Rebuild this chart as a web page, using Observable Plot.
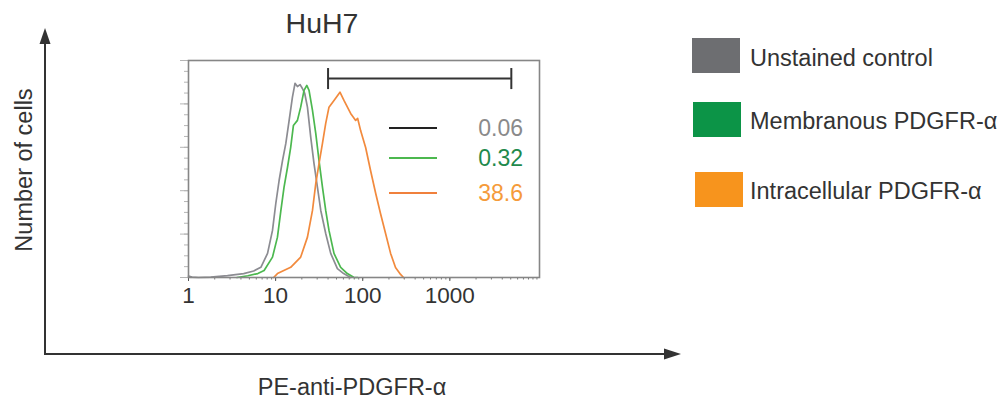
<!DOCTYPE html>
<html><head><meta charset="utf-8">
<script src="https://cdn.jsdelivr.net/npm/d3@7"></script>
<script src="https://cdn.jsdelivr.net/npm/@observablehq/plot@0.6"></script>
<style>html,body{margin:0;padding:0;background:#fff;} svg{display:block}</style>
</head><body><div id="chart"></div>
<script>
// ---- data ----
const title = "HuH7";
const xLabel = "PE-anti-PDGFR-α";
const yLabel = "Number of cells";
const seriesNames = ["Unstained control", "Membranous PDGFR-α", "Intracellular PDGFR-α"];
const gatePercents = ["0.06", "0.32", "38.6"];
const xTicks = [1, 10, 100, 1000];
const gateRange = [40, 5080];

const unstainedX = [1, 1.1, 1.3, 1.8, 2.8, 4.3, 5.6, 6.77, 8.08, 9.21, 10.05, 10.97, 12.0, 13.1, 14.3, 15.6, 16.7, 17.8, 19.1, 20.3, 21.6, 23.2, 25.3, 27.6, 30.2, 33.0, 37.6, 42.9, 51.2, 60.4, 72.7];
const unstainedY = [0.6, 0.2, 0, 0.2, 0.9, 1.8, 3.0, 4.7, 11.1, 21.7, 34.1, 44.7, 53.9, 61.8, 72.4, 83.1, 89.5, 88.0, 88.9, 87.1, 84.8, 78.5, 64.7, 52.5, 41.6, 30.9, 20.3, 11.1, 4.1, 1.8, 0];

const membranousX = [3.6, 4.8, 6.25, 7.38, 9.21, 10.5, 11.5, 12.5, 13.7, 14.9, 16.0, 17.8, 19.4, 21.2, 22.8, 24.2, 26.5, 28.9, 31.5, 34.5, 37.6, 41.0, 46.8, 55.8, 66.6, 78.7, 87.5];
const membranousY = [0, 0.8, 1.8, 3.2, 9.4, 18.6, 30.9, 41.6, 50.8, 60.0, 70.0, 72.4, 78.5, 86.2, 88.5, 86.2, 77.0, 66.4, 53.9, 41.6, 30.9, 21.7, 11.1, 4.7, 1.8, 0.1, 0];

const intracellularX = [9.5, 10.5, 14.9, 19.4, 23.2, 26.5, 28.9, 31.5, 34.5, 37.6, 41.0, 46.8, 54.8, 60.9, 72.7, 83.0, 87.5, 94.6, 108, 123, 141, 160, 183, 209, 238, 272, 294];
const intracellularY = [0, 1.8, 4.7, 9.4, 18.6, 30.9, 43.3, 52.5, 61.8, 71.0, 78.5, 81.6, 85.4, 81.6, 75.6, 72.4, 73.3, 67.7, 59.9, 49.3, 38.7, 29.5, 20.3, 11.1, 4.6, 1.4, 0];

// ---- styles ----
const FONT = "Liberation Sans, Arial, Helvetica, sans-serif";
const swatchColors = ["#6d6e71", "#0c9447", "#f7941d"];
const lineColors = ["#8c8c92", "#4cb84f", "#f28a3d"];
const gateLineColors = ["#222222", "#4cb84f", "#f0803c"];
const gateTextColors = ["#8a8a8a", "#1f8a4c", "#f59b3a"];

const xs = [unstainedX, membranousX, intracellularX];
const ys = [unstainedY, membranousY, intracellularY];
const rows = seriesNames.flatMap((s, i) => xs[i].map((x, j) => ({series: s, x, y: ys[i][j]})));

const minorTicks = [];
for (const d of [1, 10, 100, 1000]) for (let m = 1; m <= 9; m++) minorTicks.push(d * m);
minorTicks.push(10000);

const chart = Plot.plot({
  width: 1006, height: 399,
  marginLeft: 188, marginRight: 467, marginTop: 60, marginBottom: 122,
  style: {fontFamily: FONT, fontSize: "22px", color: "#333", background: "#fff", overflow: "visible"},
  x: {type: "log", domain: [1, 10700]},
  y: {domain: [0, 100]},
  color: {domain: seriesNames, range: lineColors},
  marks: [
    Plot.axisY({ticks: d3.range(0, 101, 5), tickSize: 4, stroke: "#b5b5b5", tickFormat: () => "", label: null}),
    Plot.axisY({ticks: d3.range(0, 101, 20), tickSize: 8, stroke: "#b5b5b5", tickFormat: () => "", label: null}),
    Plot.axisX({ticks: minorTicks, tickSize: 2.5, stroke: "#777", tickFormat: () => "", label: null}),
    Plot.axisX({ticks: xTicks, tickSize: 4, tickPadding: 6, stroke: "#555", fill: "#333", tickFormat: d => String(d), label: null}),
    Plot.line(rows, {x: "x", y: "y", z: "series", stroke: "series", strokeWidth: 1.7}),
    Plot.frame({stroke: "#868686", strokeWidth: 1.6}),
    Plot.ruleY([91.7], {x1: gateRange[0], x2: gateRange[1], stroke: "#333", strokeWidth: 2}),
    Plot.ruleX(gateRange, {y1: 86.6, y2: 96.3, stroke: "#333", strokeWidth: 2})
  ]
});
document.getElementById("chart").appendChild(chart);

const svg = d3.select(chart);
svg.selectAll("g[aria-label='x-axis tick label']").attr("font-size", 22.5).selectAll("text").attr("font-size", 22.5);

const g = svg.append("g").attr("font-family", FONT).attr("fill", "#333").attr("text-anchor", "start");

// outer axes with arrows
g.append("line").attr("x1", 45).attr("y1", 42).attr("x2", 45).attr("y2", 355).attr("stroke", "#333").attr("stroke-width", 2);
g.append("line").attr("x1", 44).attr("y1", 354).attr("x2", 666).attr("y2", 354).attr("stroke", "#333").attr("stroke-width", 2);
g.append("polygon").attr("points", "45,28 39.5,44 50.5,44").attr("fill", "#333");
g.append("polygon").attr("points", "681,354 664,348.5 664,359.5").attr("fill", "#333");

// title and axis labels
g.append("text").attr("x", 322).attr("y", 33).attr("text-anchor", "middle").attr("font-size", 28.5).text(title);
g.append("text").attr("x", 352).attr("y", 395).attr("text-anchor", "middle").attr("font-size", 23.5).text(xLabel);
g.append("text").attr("transform", "translate(32,170) rotate(-90)").attr("text-anchor", "middle").attr("font-size", 23.5).text(yLabel);

// inner gate legend
const innerY = [128, 158, 193];
seriesNames.forEach((s, i) => {
  g.append("line").attr("x1", 389).attr("x2", 437).attr("y1", innerY[i]).attr("y2", innerY[i])
    .attr("stroke", gateLineColors[i]).attr("stroke-width", 2);
  g.append("text").attr("x", 523).attr("y", innerY[i] + 8).attr("text-anchor", "end")
    .attr("font-size", 23).attr("fill", gateTextColors[i]).text(gatePercents[i]);
});

// outer legend
const legX = [692, 693, 695], legY = [38, 102, 172], legBase = [66, 129, 199];
seriesNames.forEach((s, i) => {
  g.append("rect").attr("x", legX[i]).attr("y", legY[i]).attr("width", 48).attr("height", 35).attr("fill", swatchColors[i]);
  g.append("text").attr("x", 750).attr("y", legBase[i]).attr("text-anchor", "start").attr("font-size", 23.5).text(s);
});
</script>
</body></html>
